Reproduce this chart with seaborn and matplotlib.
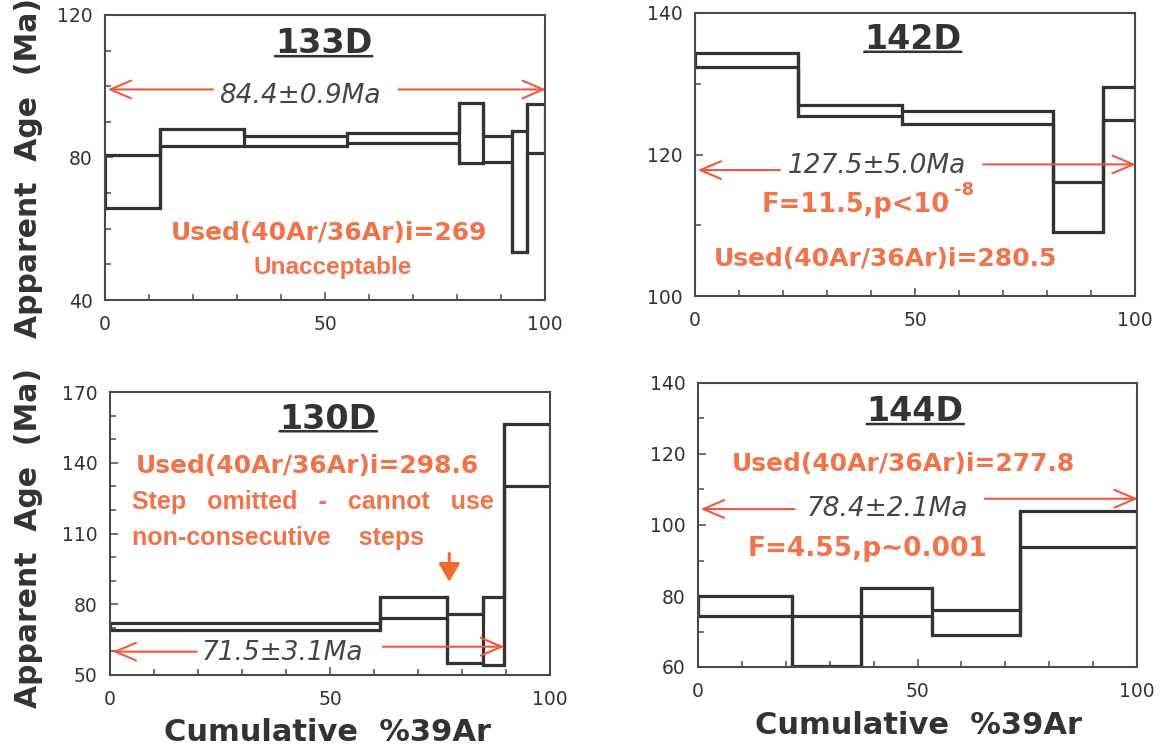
import matplotlib
matplotlib.use("Agg")
import matplotlib.pyplot as plt
import seaborn as sns
import pandas as pd
from matplotlib.ticker import MultipleLocator

sns.set_theme(style="white")
plt.rcParams["font.family"] = ["Liberation Sans", "DejaVu Sans"]

# ---------------- data ----------------
x_tick_values = [0, 50, 100]
x_tick_labels = ["0", "50", "100"]

# sample 133D
s133_edges = [0, 12.5, 31.6, 54.9, 80.5, 85.8, 92.4, 95.8, 100]
s133_top = [80.7, 87.9, 85.9, 87.0, 95.4, 86.0, 87.3, 95.0]
s133_bot = [65.7, 83.2, 83.2, 84.0, 78.4, 78.8, 53.6, 81.2]
s133_yticks = [40, 80, 120]

# sample 142D
s142_edges = [0, 23.3, 47.0, 81.3, 92.8, 100]
s142_top = [134.3, 127.0, 126.1, 116.1, 129.6]
s142_bot = [132.3, 125.4, 124.3, 109.0, 124.9]
s142_yticks = [100, 120, 140]

# sample 130D
s130_edges = [0, 61.4, 76.7, 84.8, 89.6, 100]
s130_top = [71.9, 83.2, 75.8, 82.9, 156.3]
s130_bot = [69.1, 74.3, 54.9, 54.2, 130.0]
s130_yticks = [50, 80, 110, 140, 170]

# sample 144D
s144_edges = [0, 21.5, 37.1, 53.2, 73.4, 100]
s144_top = [79.9, 74.5, 82.3, 76.0, 104.0]
s144_bot = [74.5, 60.2, 74.5, 69.1, 93.8]
s144_yticks = [60, 80, 100, 120, 140]

titles = ["133D", "142D", "130D", "144D"]
age_texts = ["84.4\u00b10.9Ma", "127.5\u00b15.0Ma", "71.5\u00b13.1Ma", "78.4\u00b12.1Ma"]
ylabel_text = "Apparent  Age  (Ma)"
xlabel_text = "Cumulative  %39Ar"

# ---------------- styling ----------------
LINE = "#333333"
SPINE = "#4a4a4a"
ORANGE = "#f0734a"
ARROW = "#f0583c"
GRAY = "#454545"
W, H = 1163, 749

fig = plt.figure(figsize=(W / 100, H / 100), dpi=100)
fig.patch.set_facecolor("white")


def px_rect(left, right, top, bottom):
    return [left / W, 1 - bottom / H, (right - left) / W, (bottom - top) / H]


def make_ax(rect, ylim, yticks):
    ax = fig.add_axes(rect)
    ax.set_facecolor("white")
    ax.set_xlim(0, 100)
    ax.set_ylim(*ylim)
    ax.set_xticks(x_tick_values)
    ax.set_xticklabels(x_tick_labels)
    ax.xaxis.set_minor_locator(MultipleLocator(10))
    ax.set_yticks(yticks)
    ax.yaxis.set_minor_locator(MultipleLocator(10))
    ax.tick_params(which="both", direction="in", bottom=True, left=True, top=False, right=False,
                   color=SPINE, labelcolor="#333333", labelsize=13.5)
    ax.tick_params(which="major", length=6, width=1.1)
    ax.tick_params(which="minor", length=4, width=1.1)
    ax.tick_params(axis="x", pad=11)
    ax.tick_params(axis="y", pad=9)
    for lab in ax.get_xticklabels() + ax.get_yticklabels():
        lab.set_family("DejaVu Sans")
    for s in ax.spines.values():
        s.set_visible(True)
        s.set_color(SPINE)
        s.set_linewidth(1.5)
    ax.grid(False)
    return ax


def draw_spectrum(ax, edges, top, bot):
    df = pd.DataFrame({"x": edges, "top": top + [top[-1]], "bot": bot + [bot[-1]]})
    long = df.melt(id_vars="x", value_vars=["top", "bot"], var_name="bound", value_name="age")
    sns.lineplot(data=long, x="x", y="age", units="bound", estimator=None, sort=False,
                 drawstyle="steps-post", color=LINE, lw=2.3, ax=ax, legend=False)
    n = len(top)
    lo = [bot[0]] + [min(bot[i - 1], bot[i]) for i in range(1, n)] + [bot[-1]]
    hi = [top[0]] + [max(top[i - 1], top[i]) for i in range(1, n)] + [top[-1]]
    ax.vlines(edges, lo, hi, color=LINE, lw=2.3, capstyle="projecting")
    ax.set_xlabel("")
    ax.set_ylabel("")


def title(ax, name, x, y):
    t = ax.text(x, y, name, ha="center", va="baseline", fontsize=24, fontweight="bold",
                color="#333333", family="DejaVu Sans")
    ax.annotate("", xy=(1, 0.13), xycoords=t, xytext=(0, 0.13), textcoords=t,
                arrowprops=dict(arrowstyle="-", lw=1.8, color="#333333", shrinkA=0, shrinkB=0))


def age_bar(ax, text, tx, ty, left_seg, right_seg):
    ax.text(tx, ty, text, ha="center", va="baseline", fontsize=19, style="italic",
            color=GRAY, family="DejaVu Sans")
    style = "->,head_length=0.75,head_width=0.32"
    (lx0, lx1, ly) = left_seg
    (rx0, rx1, ry) = right_seg
    ax.annotate("", xy=(lx0, ly), xytext=(lx1, ly), annotation_clip=False,
                arrowprops=dict(arrowstyle=style, color=ARROW, lw=1.5, shrinkA=0, shrinkB=0,
                                mutation_scale=20))
    ax.annotate("", xy=(rx1, ry), xytext=(rx0, ry), annotation_clip=False,
                arrowprops=dict(arrowstyle=style, color=ARROW, lw=1.5, shrinkA=0, shrinkB=0,
                                mutation_scale=20))


def orange(ax, x, y, s, ha="center", wide=True, size=18):
    fam = "DejaVu Sans" if wide else "Liberation Sans"
    return ax.text(x, y, s, ha=ha, va="baseline", fontsize=size, fontweight="bold",
                   color=ORANGE, family=fam)


# ---------------- panel 133D ----------------
ax1 = make_ax(px_rect(105, 545, 15, 300), (40, 120), s133_yticks)
draw_spectrum(ax1, s133_edges, s133_top, s133_bot)
title(ax1, titles[0], 49.7, 109.2)
age_bar(ax1, age_texts[0], 44.3, 95.2, (0.6, 24.6, 99.1), (66.7, 100.2, 99.1))
orange(ax1, 50.8, 56.9, "Used(40Ar/36Ar)i=269")
orange(ax1, 51.7, 47.3, "Unacceptable", wide=False, size=17.5)

# ---------------- panel 142D ----------------
ax2 = make_ax(px_rect(695, 1135, 13, 296), (100, 140), s142_yticks)
draw_spectrum(ax2, s142_edges, s142_top, s142_bot)
title(ax2, titles[1], 49.5, 134.9)
age_bar(ax2, age_texts[1], 41.4, 117.45, (0.6, 19.3, 117.8), (65.5, 100.2, 118.6))
tF = orange(ax2, 15.2, 111.9, "F=11.5,p<10", ha="left", size=18.5)
ax2.annotate("-8", xy=(1, 1), xycoords=tF, xytext=(3, 8), textcoords="offset points",
             ha="left", va="top", fontsize=13, fontweight="bold", color=ORANGE,
             family="DejaVu Sans")
orange(ax2, 43.3, 104.2, "Used(40Ar/36Ar)i=280.5")

# ---------------- panel 130D ----------------
ax3 = make_ax(px_rect(110, 550, 392, 675), (50, 170), s130_yticks)
draw_spectrum(ax3, s130_edges, s130_top, s130_bot)
title(ax3, titles[2], 49.6, 154.5)
orange(ax3, 44.8, 135.7, "Used(40Ar/36Ar)i=298.6")
orange(ax3, 4.9, 120.2, "Step   omitted   -   cannot   use", ha="left", wide=False, size=18)
orange(ax3, 4.9, 105.1, "non-consecutive    steps", ha="left", wide=False, size=18)
ax3.annotate("", xy=(77.1, 89.5), xytext=(77.1, 101.5),
             arrowprops=dict(arrowstyle="-|>,head_length=0.55,head_width=0.32",
                             color="#f06a2a", lw=2.2, shrinkA=0, shrinkB=0, mutation_scale=20))
age_bar(ax3, age_texts[2], 39.2, 56.3, (0.6, 19.7, 59.9), (62.0, 89.6, 62.0))

# ---------------- panel 144D ----------------
ax4 = make_ax(px_rect(698, 1137, 383, 667), (60, 140), s144_yticks)
draw_spectrum(ax4, s144_edges, s144_top, s144_bot)
title(ax4, titles[3], 49.5, 129.2)
orange(ax4, 46.7, 115.1, "Used(40Ar/36Ar)i=277.8")
age_bar(ax4, age_texts[3], 43.1, 102.4, (0.6, 22.0, 104.5), (65.3, 100.2, 107.4))
orange(ax4, 38.7, 91.4, "F=4.55,p~0.001", size=19)

# ---------------- axis labels ----------------
lab_kw = dict(fontsize=21.5, fontweight="bold", color="#333333", family="DejaVu Sans")
ax1.set_ylabel(ylabel_text, **lab_kw)
ax1.yaxis.set_label_coords(-0.141, 0.463)
ax3.set_ylabel(ylabel_text, **lab_kw)
ax3.yaxis.set_label_coords(-0.152, 0.484)

xl_kw = dict(fontsize=22, fontweight="bold", color="#333333", family="DejaVu Sans")
ax3.set_xlabel(xlabel_text, **xl_kw)
ax3.xaxis.set_label_coords(0.495, -0.152)
ax4.set_xlabel(xlabel_text, **xl_kw)
ax4.xaxis.set_label_coords(0.503, -0.155)

fig.savefig("out.png", dpi=100, facecolor="white")
